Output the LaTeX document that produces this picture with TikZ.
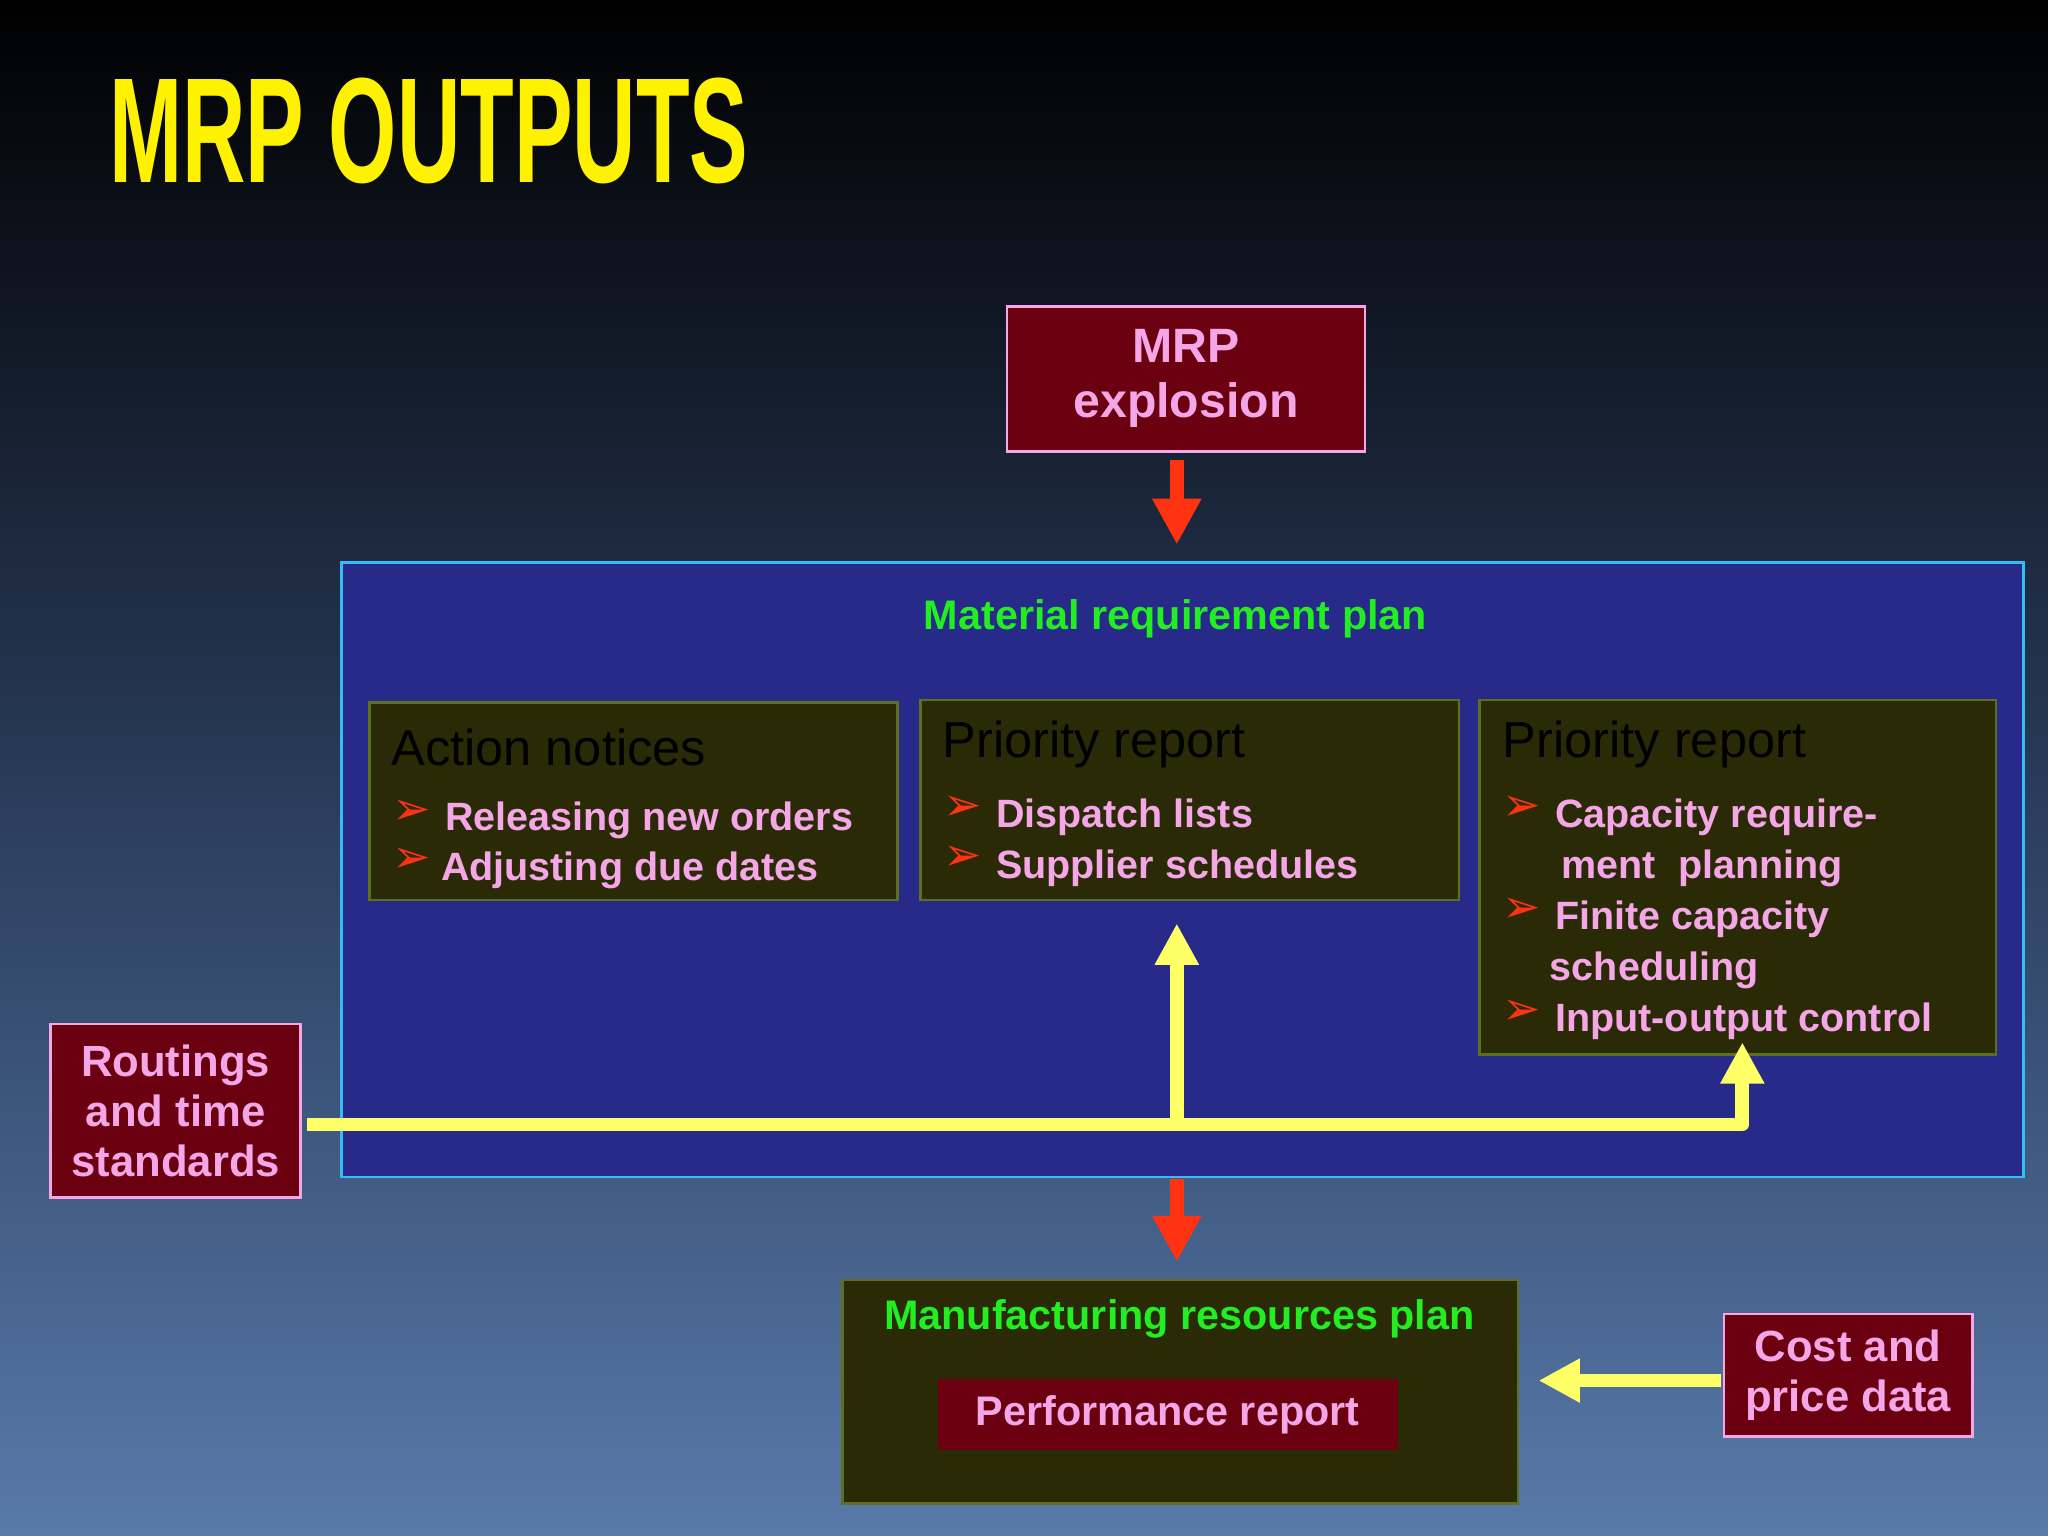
\documentclass[tikz,border=0pt]{standalone}
\usepackage{fontspec}
\setmainfont{Liberation Sans}
\newfontfamily\dv{DejaVu Sans}
\usetikzlibrary{arrows.meta}
\definecolor{pinkt}{HTML}{F4A6E6}
\definecolor{darkred}{HTML}{6A0010}
\definecolor{olivef}{HTML}{2A2A06}
\definecolor{olivee}{HTML}{5E7020}
\definecolor{bluef}{HTML}{272A88}
\definecolor{greent}{HTML}{22EE22}
\definecolor{yel}{HTML}{FFFF66}
\definecolor{redarr}{HTML}{FF3311}
\begin{document}
\begin{tikzpicture}[x=0.01cm,y=-0.01cm,
 redbox/.style={draw=pinkt,line width=0.6pt,fill=darkred,text=pinkt,font=\bfseries\fontsize{9.5}{10.8}\selectfont,align=center,inner sep=0pt},
 olbox/.style={draw=olivee,line width=0.6pt,fill=olivef,inner sep=0pt},
 ttl/.style={anchor=west,text=black,font=\fontsize{11}{12}\selectfont,inner sep=0pt},
 itm/.style={anchor=west,text=pinkt,font=\bfseries\fontsize{8.6}{9}\selectfont,inner sep=0pt},
 bul/.style={anchor=west,text=redarr,font=\dv\fontsize{10}{10}\selectfont,inner sep=0pt},
 redarrow/.style={line width=3pt,draw=redarr,-{Triangle[width=10pt,length=10pt]}},
 yarrow/.style={line width=3pt,draw=yel,-{Triangle[width=9pt,length=9pt]}}]
\useasboundingbox (0,0) rectangle (1568,1176);
\shade[top color=black,bottom color={rgb,255:red,88;green,122;blue,170},middle color={rgb,255:red,40;green,58;blue,88}] (0,0) rectangle (1568,1176);
\node[anchor=west,text=yellow,inner sep=0pt] (title) at (83,100) {\resizebox{4.89cm}{0.8cm}{\bfseries MRP OUTPUTS}};
% MRP explosion
\node[redbox,minimum width=2.74cm,minimum height=1.11cm,font=\bfseries\fontsize{10.5}{12}\selectfont] (mrp) at (908,290) {MRP\\explosion};
% big blue
\node[draw=cyan!80,line width=0.6pt,fill=bluef,minimum width=12.87cm,minimum height=4.70cm,inner sep=0pt] (plan) at (905.5,666) {};
\node[text=greent,font=\bfseries\fontsize{9}{10}\selectfont] (plant) at (900,474) {Material requirement plan};
\coordinate (a1) at (901,352);
\draw[redarrow] (a1) -- (901,417);
% boxes
\node[olbox,minimum width=4.04cm,minimum height=1.51cm] (b1) at (485,613.5) {};
\node[olbox,minimum width=4.12cm,minimum height=1.53cm] (b2) at (911,612.5) {};
\node[olbox,minimum width=3.95cm,minimum height=2.71cm] (b3) at (1330.5,671.5) {};
\node[ttl] (t1) at (299,572) {Action notices};
\node[bul] (u1) at (300,622) {➢};
\node[itm] (i1) at (340,628) {Releasing new orders};
\node[bul] (u2) at (300,659) {➢};
\node[itm] (i2) at (337,666) {Adjusting due dates};
\node[ttl] (t2) at (721,570) {Priority report};
\node[bul] (u3) at (722,619) {➢};
\node[itm] (i3) at (762,626) {Dispatch lists};
\node[bul] (u4) at (722,657) {➢};
\node[itm] (i4) at (762,665) {Supplier schedules};
\node[ttl] (t3) at (1150,570) {Priority report};
\node[bul] (u5) at (1150,619) {➢};
\node[itm] (i5) at (1190,626) {Capacity require-};
\node[itm] (i6) at (1195,665) {ment\ \ planning};
\node[bul] (u6) at (1150,697) {➢};
\node[itm] (i7) at (1190,704) {Finite capacity};
\node[itm] (i8) at (1186,743) {scheduling};
\node[bul] (u7) at (1150,775) {➢};
\node[itm] (i9) at (1190,782) {Input-output control};
% routings
\node[redbox,minimum width=1.91cm,minimum height=1.33cm] (rout) at (134.5,850.5) {Routings\\and time\\standards};
\coordinate (j) at (901,861);
\coordinate (k) at (1334,861);
\coordinate (ktop) at (1334,798);
\coordinate (jtop) at (901,707);
\coordinate (rs) at (235,861);
\draw[line width=3pt,yel,line join=round] (rs) -- (k) -- (1334,820);
\draw[yarrow] (k) -- (ktop);
\draw[yarrow] (j) -- (jtop);
% manufacturing
\node[olbox,minimum width=5.17cm,minimum height=1.71cm] (man) at (903.5,1065.5) {};
\node[text=greent,font=\bfseries\fontsize{9}{10}\selectfont] (mant) at (903,1010) {Manufacturing resources plan};
\node[fill=darkred,minimum width=3.52cm,minimum height=0.54cm,text=pinkt,font=\bfseries\fontsize{9}{10}\selectfont,inner sep=0pt] (perf) at (894,1083) {Performance report};
\coordinate (a2) at (901,903);
\coordinate (a2e) at (901,966);
\draw[redarrow] (a2) -- (a2e);
% cost
\node[redbox,minimum width=1.90cm,minimum height=0.94cm] (cost) at (1415,1053) {Cost and\\price data};
\coordinate (ce) at (1318,1057);
\coordinate (me) at (1178,1057);
\draw[yarrow] (ce) -- (me);
\end{tikzpicture}
\end{document}
